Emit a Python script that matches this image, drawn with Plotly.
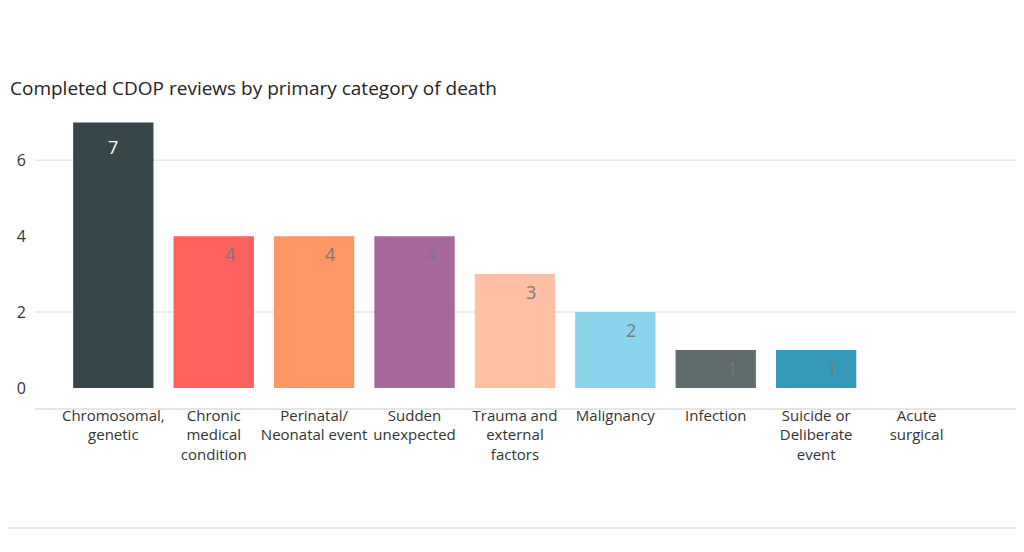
import plotly.graph_objects as go

categories = ["Chromosomal,<br>genetic", "Chronic<br>medical<br>condition", "Perinatal/<br>Neonatal event",
              "Sudden<br>unexpected", "Trauma and<br>external<br>factors", "Malignancy", "Infection",
              "Suicide or<br>Deliberate<br>event", "Acute<br>surgical"]
values = [7, 4, 4, 4, 3, 2, 1, 1, 0]
colors = ["#374649", "#FD625E", "#FE9666", "#A66999", "#FEC0A3", "#8AD4EB", "#5F6B6D", "#3599B8", "#01B8AA"]
y_ticks = [0, 2, 4, 6]
grid_values = [2, 6]

FONT = "Open Sans, Noto Sans, sans-serif"
xs = list(range(len(categories)))

# page has an 8px body margin, so offsets are compensated in the margins
L, R, T, B = 27, 8, 103, 152
PW = 1024 - L - R
PH = 552 - T - B

fig = go.Figure()
fig.add_trace(go.Bar(
    x=xs, y=values, marker=dict(color=colors, line=dict(width=0)),
    width=0.8, hoverinfo="skip", showlegend=False,
))

# data labels
for i, v in enumerate(values):
    if v <= 0:
        continue
    first = (i == 0)
    fig.add_annotation(
        x=i, y=v, xref="x", yref="y", text=str(v), showarrow=False,
        yanchor="top", yshift=-11 if first else -4, xshift=0 if first else 16,
        font=dict(family=FONT, size=18, color="#FFFFFF" if first else "#7a7a7a"),
    )

# gridlines
for g in grid_values:
    fig.add_shape(type="line", xref="paper", yref="y", x0=0, x1=1, y0=g, y1=g,
                  line=dict(color="#E9E9E9", width=1.5), layer="below")

# bottom separator line
fig.add_shape(type="line", xref="paper", yref="paper", x0=-L / PW, x1=(1024 - L) / PW,
              y0=-120 / PH, y1=-120 / PH, line=dict(color="#E6E6E6", width=1.5))

fig.update_layout(
    width=1024, height=552,
    margin=dict(l=L, r=R, t=T, b=B),
    paper_bgcolor="white", plot_bgcolor="white",
    font=dict(family=FONT, color="#252423"),
    title=dict(text="Completed CDOP reviews by primary category of death",
               x=2 / 1024, xanchor="left", y=1 - 80 / 552, yanchor="middle",
               font=dict(family=FONT, size=19, color="#252423")),
    bargap=0.2,
)
fig.update_xaxes(
    range=[-0.78, 9.07], tickmode="array", tickvals=xs, ticktext=categories,
    tickangle=0, showgrid=False, zeroline=False, showline=True, linecolor="#E6E6E6", linewidth=1.5,
    ticks="", tickfont=dict(family=FONT, size=15, color="#333333"), ticklabelstandoff=-7,
)
fig.update_yaxes(
    range=[-0.53, 7.3], tickmode="array", tickvals=y_ticks, ticktext=[str(t) for t in y_ticks],
    showgrid=False, zeroline=False, showline=False, ticks="",
    tickfont=dict(family=FONT, size=16, color="#333333"), ticklabelstandoff=8,
)

fig.write_html("out.html")
